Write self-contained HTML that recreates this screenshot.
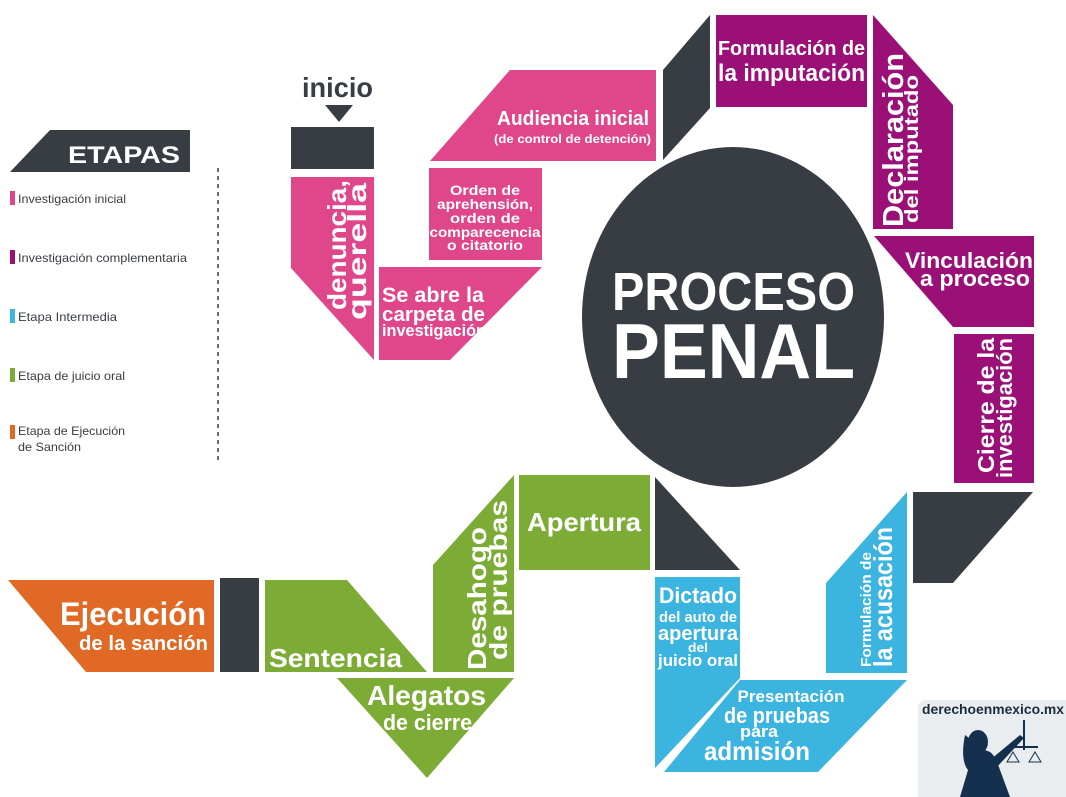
<!DOCTYPE html>
<html><head><meta charset="utf-8"><style>
html,body{margin:0;padding:0;background:#fff;}
svg{display:block;}
text{font-family:"Liberation Sans",sans-serif;font-weight:bold;fill:#fff;}
.d{fill:#383d44;}
.leg{font-weight:normal;fill:#383d44;font-size:12px;}
</style></head><body>
<svg width="1066" height="797" viewBox="0 0 1066 797" xmlns="http://www.w3.org/2000/svg">
<rect width="1066" height="797" fill="#fff"/>
<!-- Legend -->
<polygon points="10,172 50,130 190,130 190,172" fill="#383d44"/>
<text x="68" y="163" font-size="24" textLength="112" lengthAdjust="spacingAndGlyphs">ETAPAS</text>
<rect x="10" y="191" width="5" height="14" fill="#e0478a"/>
<text class="leg" x="18" y="203" textLength="108" lengthAdjust="spacingAndGlyphs">Investigación inicial</text>
<rect x="10" y="250" width="5" height="14" fill="#9b1077"/>
<text class="leg" x="18" y="262" textLength="169" lengthAdjust="spacingAndGlyphs">Investigación complementaria</text>
<rect x="10" y="309" width="5" height="14" fill="#3bb4e0"/>
<text class="leg" x="18" y="321" textLength="99" lengthAdjust="spacingAndGlyphs">Etapa Intermedia</text>
<rect x="10" y="368" width="5" height="14" fill="#7cac36"/>
<text class="leg" x="18" y="380" textLength="107" lengthAdjust="spacingAndGlyphs">Etapa de juicio oral</text>
<rect x="10" y="425" width="5" height="14" fill="#e06a25"/>
<text class="leg" x="18" y="435" textLength="107" lengthAdjust="spacingAndGlyphs">Etapa de Ejecución</text>
<text class="leg" x="18" y="451" textLength="63" lengthAdjust="spacingAndGlyphs">de Sanción</text>
<line x1="218" y1="168" x2="218" y2="462" stroke="#383d44" stroke-width="1.5" stroke-dasharray="4,4"/>

<!-- Inicio -->
<text class="d" x="302" y="97" font-size="28" textLength="71" lengthAdjust="spacingAndGlyphs">inicio</text>
<polygon points="325,105 353,105 339,122" fill="#383d44"/>
<rect x="291" y="127" width="83" height="42" fill="#383d44"/>

<!-- Pink -->
<polygon points="291,177 374,177 374,360 291,268" fill="#e0478a"/>
<text transform="translate(346,310) rotate(-90)" font-size="26" textLength="130" lengthAdjust="spacingAndGlyphs">denuncia,</text>
<text transform="translate(366,320) rotate(-90)" font-size="26" textLength="137" lengthAdjust="spacingAndGlyphs">querella</text>
<polygon points="379,267 542,267 450,360 379,360" fill="#e0478a"/>
<text x="382" y="302" font-size="21" textLength="102" lengthAdjust="spacingAndGlyphs">Se abre la</text>
<text x="382" y="321" font-size="20" textLength="103" lengthAdjust="spacingAndGlyphs">carpeta de</text>
<text x="382" y="336" font-size="17" textLength="104" lengthAdjust="spacingAndGlyphs">investigación</text>
<rect x="429" y="168" width="113" height="92" fill="#e0478a"/>
<g font-size="14" text-anchor="middle">
<text x="485" y="195" textLength="70" lengthAdjust="spacingAndGlyphs">Orden de</text>
<text x="485" y="209" textLength="96" lengthAdjust="spacingAndGlyphs">aprehensión,</text>
<text x="485" y="223" textLength="70" lengthAdjust="spacingAndGlyphs">orden de</text>
<text x="485" y="237" textLength="111" lengthAdjust="spacingAndGlyphs">comparecencia</text>
<text x="485" y="250" textLength="76" lengthAdjust="spacingAndGlyphs">o citatorio</text>
</g>
<polygon points="510,70 656,70 656,161 430,161" fill="#e0478a"/>
<text x="497" y="125" font-size="20" textLength="152" lengthAdjust="spacingAndGlyphs">Audiencia inicial</text>
<text x="494" y="143" font-size="12" textLength="157" lengthAdjust="spacingAndGlyphs">(de control de detención)</text>

<!-- dark connector top -->
<polygon points="663,70 710,15 710,108 663,160" fill="#383d44"/>

<!-- Purple -->
<rect x="716" y="15" width="151" height="92" fill="#9b1077"/>
<text x="718" y="55" font-size="20" textLength="147" lengthAdjust="spacingAndGlyphs">Formulación de</text>
<text x="718" y="81" font-size="24" textLength="147" lengthAdjust="spacingAndGlyphs">la imputación</text>
<polygon points="873,15 953,105 953,229 873,229" fill="#9b1077"/>
<text transform="translate(903,227) rotate(-90)" font-size="29" textLength="174" lengthAdjust="spacingAndGlyphs">Declaración</text>
<text transform="translate(918,223) rotate(-90)" font-size="19" textLength="148" lengthAdjust="spacingAndGlyphs">del imputado</text>
<polygon points="874,236 1034,236 1034,327 953,327" fill="#9b1077"/>
<text x="1033" y="268" font-size="22" text-anchor="end" textLength="128" lengthAdjust="spacingAndGlyphs">Vinculación</text>
<text x="1030" y="286" font-size="22" text-anchor="end" textLength="110" lengthAdjust="spacingAndGlyphs">a proceso</text>
<rect x="954" y="334" width="80" height="149" fill="#9b1077"/>
<text transform="translate(994,473) rotate(-90)" font-size="23" textLength="135" lengthAdjust="spacingAndGlyphs">Cierre de la</text>
<text transform="translate(1012,478) rotate(-90)" font-size="22" textLength="140" lengthAdjust="spacingAndGlyphs">investigación</text>

<!-- Circle -->
<ellipse cx="733" cy="317" rx="151" ry="170" fill="#383d44"/>
<text x="612" y="310" font-size="54" textLength="243" lengthAdjust="spacingAndGlyphs">PROCESO</text>
<text x="612" y="378" font-size="78" textLength="243" lengthAdjust="spacingAndGlyphs">PENAL</text>

<!-- dark right connector -->
<polygon points="913,492 1033,492 953,583 913,583" fill="#383d44"/>

<!-- Blue -->
<polygon points="907,492 907,673 826,673 826,583" fill="#3bb4e0"/>
<text transform="translate(871,667) rotate(-90)" font-size="15" textLength="115" lengthAdjust="spacingAndGlyphs">Formulación de</text>
<text transform="translate(892,667) rotate(-90)" font-size="26" textLength="140" lengthAdjust="spacingAndGlyphs">la acusación</text>
<polygon points="740,680 907,680 818,772 664,772" fill="#3bb4e0"/>
<text x="791" y="702" font-size="17" text-anchor="middle" textLength="107" lengthAdjust="spacingAndGlyphs">Presentación</text>
<text x="777" y="723" font-size="22" text-anchor="middle" textLength="106" lengthAdjust="spacingAndGlyphs">de pruebas</text>
<text x="759" y="737" font-size="17" text-anchor="middle" textLength="38" lengthAdjust="spacingAndGlyphs">para</text>
<text x="757" y="760" font-size="26" text-anchor="middle" textLength="106" lengthAdjust="spacingAndGlyphs">admisión</text>
<polygon points="655,577 740,577 740,678 655,768" fill="#3bb4e0"/>
<g text-anchor="middle">
<text x="698" y="603" font-size="22" textLength="78" lengthAdjust="spacingAndGlyphs">Dictado</text>
<text x="698" y="622" font-size="15" textLength="78" lengthAdjust="spacingAndGlyphs">del auto de</text>
<text x="698" y="640" font-size="20" textLength="80" lengthAdjust="spacingAndGlyphs">apertura</text>
<text x="698" y="652" font-size="13" textLength="20" lengthAdjust="spacingAndGlyphs">del</text>
<text x="698" y="666" font-size="17" textLength="80" lengthAdjust="spacingAndGlyphs">juicio oral</text>
</g>
<polygon points="655,477 655,570 740,570" fill="#383d44"/>

<!-- Green -->
<rect x="519" y="475" width="131" height="95" fill="#7cac36"/>
<text x="527" y="531" font-size="26" textLength="114" lengthAdjust="spacingAndGlyphs">Apertura</text>
<polygon points="433,565 514,475 514,672 433,672" fill="#7cac36"/>
<text transform="translate(486,670) rotate(-90)" font-size="26" textLength="143" lengthAdjust="spacingAndGlyphs">Desahogo</text>
<text transform="translate(507,660) rotate(-90)" font-size="25" textLength="160" lengthAdjust="spacingAndGlyphs">de pruebas</text>
<polygon points="337,678 514,678 427,778" fill="#7cac36"/>
<text x="367" y="705" font-size="28" textLength="119" lengthAdjust="spacingAndGlyphs">Alegatos</text>
<text x="383" y="730" font-size="22" textLength="89" lengthAdjust="spacingAndGlyphs">de cierre</text>
<polygon points="265,580 347,580 427,672 265,672" fill="#7cac36"/>
<text x="269" y="667" font-size="26" textLength="133" lengthAdjust="spacingAndGlyphs">Sentencia</text>
<rect x="220" y="578" width="39" height="94" fill="#383d44"/>

<!-- Orange -->
<polygon points="8,580 214,580 214,672 86,672" fill="#e06a25"/>
<text x="60" y="625" font-size="32" textLength="146" lengthAdjust="spacingAndGlyphs">Ejecución</text>
<text x="79" y="650" font-size="20" textLength="129" lengthAdjust="spacingAndGlyphs">de la sanción</text>

<!-- Logo -->
<rect x="918" y="700" width="160" height="110" rx="8" fill="#e9edf0"/>
<text x="922" y="714" font-size="14" fill="#1c2c3c" style="fill:#1c2c3c" textLength="142" lengthAdjust="spacingAndGlyphs">derechoenmexico.mx</text>
<g fill="#15304f">
<ellipse cx="978" cy="742" rx="10" ry="12"/>
<path d="M965,735 Q960,760 968,770 L960,797 L1010,797 L1000,770 Q995,755 990,752 L985,750 Z"/>
<path d="M990,760 L1020,735 L1024,738 L996,768 Z"/>
<rect x="1023" y="720" width="2" height="30"/>
<rect x="1010" y="746" width="28" height="2"/>
<path d="M1007,762 L1019,762 L1013,752 Z" fill="none" stroke="#15304f" stroke-width="1"/>
<path d="M1029,762 L1041,762 L1035,752 Z" fill="none" stroke="#15304f" stroke-width="1"/>
</g>
</svg>
</body></html>
